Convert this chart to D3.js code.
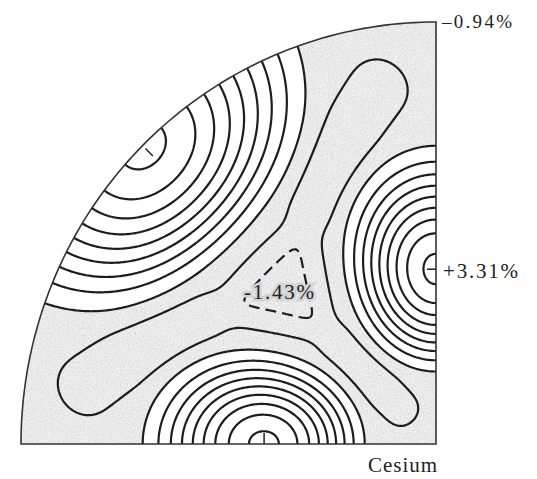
<!DOCTYPE html>
<html>
<head>
<meta charset="utf-8">
<script src="https://cdn.jsdelivr.net/npm/d3@7"></script>
<style>
  body { margin: 0; background: #fff; }
  svg { display: block; }
  text { font-family: "Liberation Serif", "DejaVu Serif", serif; fill: #222; }
</style>
</head>
<body>
<svg id="chart" width="537" height="479"></svg>
<script>
// Anisotropy (%) at the three symmetry directions of the cubic cell
const directions = ["[100]", "[110]", "[111]"];
const extremeValues = [-0.94, 3.31, -1.43];
// Contour levels (%)
const lobeLevels = [-0.73, -0.24, 0.25, 0.74, 1.23, 1.72, 2.21, 2.70, 3.19];
const valleyLevels = [-1.22];
const dashedLevels = [-1.40];
const labelTexts = ["\u20130.94%", "+3.31%", "-1.43%"];
const title = "Cesium";

const svg = d3.select("#chart");

// Stereographic projection of one octant, viewed down [001]
const xs = d3.scaleLinear().domain([0, 1]).range([436, 21]);
const ys = d3.scaleLinear().domain([0, 1]).range([444, 22]);

const deg = 180 / Math.PI;
const dot = (a, b) => a[0] * b[0] + a[1] * b[1] + a[2] * b[2];
const cross = (a, b) => [a[1] * b[2] - a[2] * b[1], a[2] * b[0] - a[0] * b[2], a[0] * b[1] - a[1] * b[0]];
const norm = v => { const l = Math.hypot(v[0], v[1], v[2]); return v.map(c => c / l); };
const ang = (a, b) => Math.acos(Math.max(-1, Math.min(1, dot(a, b)))) * deg;
const sq = t => t * t;
const smooth = (a, b, t) => { const u = Math.max(0, Math.min(1, (t - a) / (b - a))); return u * u * (3 - 2 * u); };

function toSphere(px, py) {
  const r2 = px * px + py * py;
  return [2 * px / (1 + r2), 2 * py / (1 + r2), (1 - r2) / (1 + r2)];
}
function project(n) {
  const k = 1 + n[2];
  return [xs(n[0] / k), ys(n[1] / k)];
}

// Cubic-symmetric surface built from the three stated values
const [cornerValue, peakValue, centerValue] = extremeValues;
const shoulder = -1.067;      // flat ground between the lobes
const channel = -1.37;        // floor of the valleys running to the cube axes
const lobeRadius = 30;        // angular reach of each <110> lobe (deg)
const lobeSquash = 0.19;      // lobes fall off faster on the [111] side
const armEnd = 41.8;          // valley skeleton length from [111] (deg)
const neckWidth = 4.0, tipWidth = 4.6;
const basinRadius = 8.5;      // triangular basin round [111] (deg)
const cornerReach = 8;
const blend = 4;              // softness of the join between basin and valleys

const mAxis = norm([1, 1, 1]);
const arms = [[1, 0, 0], [0, 1, 0], [0, 0, 1]].map(c => {
  const N = norm(cross(mAxis, c));
  const cm = dot(c, mAxis);
  const t = norm(c.map((v, i) => v - cm * mAxis[i]));
  const le = armEnd / deg;
  const e = mAxis.map((v, i) => Math.cos(le) * v + Math.sin(le) * t[i]);
  return { N, t, e };
});
const peaks = [[1, 1, 0], [1, 0, 1], [0, 1, 1]].map(p => {
  const u = norm(p);
  const pm = dot(mAxis, u);
  return { u, tm: norm(mAxis.map((v, i) => v - pm * u[i])) };
});
// tangent frame at [111]; the basin's flat sides face the lobes
const e1 = arms[0].t, e2 = cross(mAxis, e1);
const sideDirs = [60, 180, 300].map(a => [Math.cos(a / deg), Math.sin(a / deg)]);

// returns [lobe part, valley part] of the surface
function field(n) {
  const v = [Math.abs(n[0]), Math.abs(n[1]), Math.abs(n[2])];
  const [a, b, c] = v;
  // nearest <110> lobe, measured with a metric squeezed toward [111]
  let pk = peaks[0], best = -2;
  for (const p of peaks) { const d = dot(v, p.u); if (d > best) { best = d; pk = p; } }
  const psi = Math.acos(Math.min(1, best)) * deg;
  const tn = v.map((x, i) => x - best * pk.u[i]);
  const tl = Math.hypot(tn[0], tn[1], tn[2]);
  const cphi = tl > 1e-9 ? dot(tn, pk.tm) / tl : 0;
  const x = psi * (1 + lobeSquash * cphi * cphi) / lobeRadius;
  const lobe = x < 1 ? sq(1 - x * x) : 0;

  // triangular basin round [111]
  const vm = dot(v, mAxis);
  const tm = v.map((q, i) => q - vm * mAxis[i]);
  const tml = Math.hypot(tm[0], tm[1], tm[2]);
  const rho = Math.atan2(tml, vm) * deg;
  const k = tml > 1e-9 ? rho / tml : 0;
  const X = dot(tm, e1) * k, Y = dot(tm, e2) * k;
  let acc = 0;
  for (const [cx, cy] of sideDirs) { const d = X * cx + Y * cy; if (d > 0) acc += d ** 8; }
  const rEff = Math.pow(acc, 1 / 8);
  const basin = (shoulder - centerValue) * Math.exp(-0.5 * sq(sq(rEff / basinRadius)));

  // valleys from [111] toward the cube axes, joined to the basin
  let sum = basin ** blend;
  for (const arm of arms) {
    const l = Math.atan2(dot(v, arm.t), vm) * deg;
    let D;
    if (l < 0) D = rho;
    else if (l > armEnd) D = ang(v, arm.e);
    else D = Math.asin(Math.min(1, Math.abs(dot(v, arm.N)))) * deg;
    const lc = Math.max(0, Math.min(armEnd, l));
    const s = neckWidth + (tipWidth - neckWidth) * smooth(20, 38, lc);
    const w = (shoulder - channel) * smooth(4, 18, lc) * Math.exp(-0.5 * sq(sq(D / s)));
    sum += w ** blend;
  }
  const well = Math.pow(sum, 1 / blend);
  const chi = Math.acos(Math.min(1, Math.max(a, b, c))) * deg;
  const bump = (cornerValue - shoulder) * Math.exp(-sq(chi / cornerReach));
  return [(peakValue - shoulder) * lobe, shoulder - well + bump];
}

// separable gaussian smoothing of a grid
function blurGrid(src, w, hgt, sigma) {
  const r = Math.ceil(3 * sigma), ker = [];
  let tot = 0;
  for (let k = -r; k <= r; k++) { const q = Math.exp(-k * k / (2 * sigma * sigma)); ker.push(q); tot += q; }
  for (let k = 0; k < ker.length; k++) ker[k] /= tot;
  const tmp = new Float64Array(w * hgt), out = new Float64Array(w * hgt);
  for (let j = 0; j < hgt; j++) for (let i = 0; i < w; i++) {
    let s = 0;
    for (let k = -r; k <= r; k++) s += ker[k + r] * src[j * w + Math.min(w - 1, Math.max(0, i + k))];
    tmp[j * w + i] = s;
  }
  for (let j = 0; j < hgt; j++) for (let i = 0; i < w; i++) {
    let s = 0;
    for (let k = -r; k <= r; k++) s += ker[k + r] * tmp[Math.min(hgt - 1, Math.max(0, j + k)) * w + i];
    out[j * w + i] = s;
  }
  return out;
}

// Sample the surface on a pixel grid covering the plot
const x0 = 8, y0 = 8, h = 1.5;
const nx = Math.ceil((452 - x0) / h) + 1, ny = Math.ceil((458 - y0) / h) + 1;
const lobeGrid = new Float64Array(nx * ny), valleyGrid = new Float64Array(nx * ny);
for (let j = 0; j < ny; j++) {
  for (let i = 0; i < nx; i++) {
    const [lp, vp] = field(toSphere(xs.invert(x0 + i * h), ys.invert(y0 + j * h)));
    lobeGrid[j * nx + i] = lp;
    valleyGrid[j * nx + i] = vp;
  }
}
const valleySmooth = blurGrid(valleyGrid, nx, ny, 4);
const values = lobeGrid.map((lp, i) => lp + valleySmooth[i]);

const gridPath = d3.geoPath(d3.geoTransform({
  point(x, y) { this.stream.point(x0 + (x - 0.5) * h, y0 + (y - 0.5) * h); }
}));
const contours = d3.contours().size([nx, ny]);
const contourAt = lv => contours.contour(values, lv);

// Outline of the octant
const arcPts = d3.range(0, 91, 1).map(t => [xs(Math.cos(t / deg)), ys(Math.sin(t / deg))]);
const outline = d3.line()([[xs(0), ys(0)], ...arcPts, [xs(0), ys(0)]]) + "Z";

const defs = svg.append("defs");
defs.append("clipPath").attr("id", "octant").append("path").attr("d", outline);
const grain = defs.append("filter").attr("id", "grain")
  .attr("x", 0).attr("y", 0).attr("width", 1).attr("height", 1);
grain.append("feTurbulence").attr("type", "fractalNoise").attr("baseFrequency", 0.6)
  .attr("numOctaves", 3).attr("seed", 7).attr("result", "noise");
grain.append("feColorMatrix").attr("in", "noise").attr("type", "matrix")
  .attr("values", "0.33 0.33 0.33 0 0  0.33 0.33 0.33 0 0  0.33 0.33 0.33 0 0  0 0 0 0 1")
  .attr("result", "mono");
const ct = grain.append("feComponentTransfer").attr("in", "mono").attr("result", "tone");
["feFuncR", "feFuncG", "feFuncB"].forEach(f =>
  ct.append(f).attr("type", "linear").attr("slope", 0.6).attr("intercept", 0.52));
grain.append("feComposite").attr("in", "tone").attr("in2", "SourceGraphic").attr("operator", "in");

const plot = svg.append("g").attr("clip-path", "url(#octant)");
// shaded ground below the outermost lobe contour
plot.append("path").attr("d", outline).attr("fill", "#d2d2d2").attr("filter", "url(#grain)");
plot.append("path").attr("d", gridPath(contourAt(lobeLevels[0])))
  .attr("fill", "#fff").attr("stroke", "none");

const lines = plot.append("g").attr("fill", "none").attr("stroke", "#1d1d1d")
  .attr("stroke-width", 2.2).attr("stroke-linejoin", "round");
[...valleyLevels, ...lobeLevels].forEach(lv => {
  lines.append("path").attr("d", gridPath(contourAt(lv)));
});
dashedLevels.forEach(lv => {
  lines.append("path").attr("d", gridPath(contourAt(lv))).attr("stroke-dasharray", "11 6");
});

// frame of the octant
svg.append("path").attr("d", outline).attr("fill", "none")
  .attr("stroke", "#333").attr("stroke-width", 1.6);

// markers at the <110> maxima
const r2 = Math.SQRT1_2;
const pRight = project([0, r2, r2]);
const pBottom = project([r2, 0, r2]);
const ticks = svg.append("g").attr("stroke", "#222").attr("stroke-width", 1.5);
ticks.append("line").attr("x1", pRight[0] - 9).attr("x2", pRight[0]).attr("y1", pRight[1]).attr("y2", pRight[1]);
ticks.append("line").attr("x1", pBottom[0]).attr("x2", pBottom[0]).attr("y1", pBottom[1]).attr("y2", pBottom[1] - 11);
const aOut = [xs(r2 * 0.99), ys(r2 * 0.99)], aIn = [xs(r2 * 0.965), ys(r2 * 0.965)];
ticks.append("line").attr("x1", aOut[0]).attr("y1", aOut[1]).attr("x2", aIn[0]).attr("y2", aIn[1]);

// value labels
const pCorner = project([0, 1, 0]);
const pCenter = project(mAxis);
svg.append("text").attr("x", pCorner[0] + 6).attr("y", pCorner[1] + 6)
  .attr("font-size", 19).attr("textLength", 70).text(labelTexts[0]);
svg.append("text").attr("x", pRight[0] + 7).attr("y", pRight[1] + 9)
  .attr("font-size", 21).attr("textLength", 75).text(labelTexts[1]);
svg.append("text").attr("x", pCenter[0] - 40).attr("y", pCenter[1] + 9)
  .attr("font-size", 21).attr("textLength", 70)
  .attr("stroke", "#d4d4d4").attr("stroke-width", 5).attr("paint-order", "stroke")
  .text(labelTexts[2]);
svg.append("text").attr("x", xs(0) + 1).attr("y", ys(0) + 28).attr("text-anchor", "end")
  .attr("font-size", 21).attr("textLength", 69).text(title);
</script>
</body>
</html>
